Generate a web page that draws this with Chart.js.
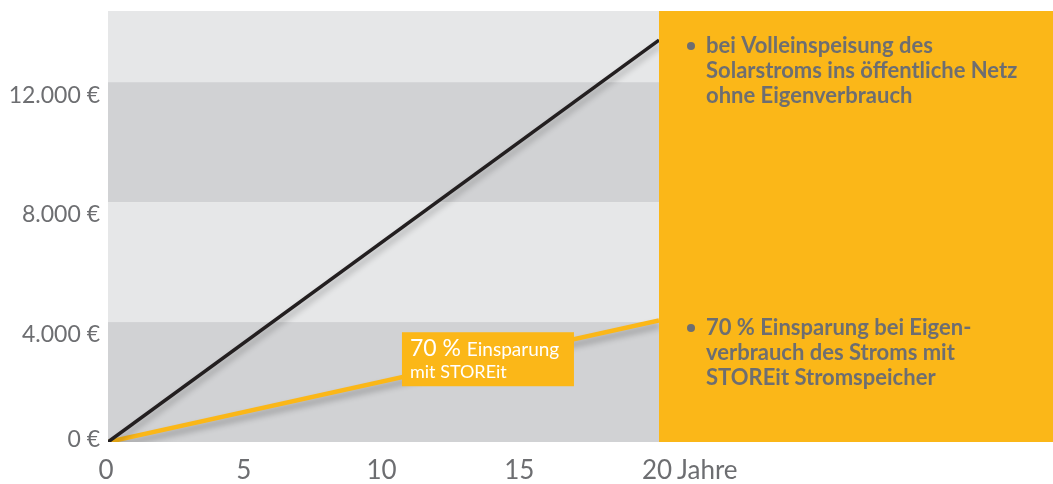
<!DOCTYPE html>
<html>
<head>
<meta charset="utf-8">
<script src="https://cdn.jsdelivr.net/npm/chart.js@4.4.0/dist/chart.umd.min.js"></script>
<style>
  html, body { margin: 0; padding: 0; background: #fff; }
  #wrap { width: 1053px; height: 484px; position: relative; }
</style>
</head>
<body>
<div id="wrap"><canvas id="chart"></canvas></div>
<script>
// data
const years = [0, 20];
const feedInValues = [0, 13400];   // Volleinspeisung, kein Eigenverbrauch
const storeItValues = [0, 4050];   // 70 % Einsparung mit STOREit
const yTickValues = [0, 4000, 8000, 12000];
const yTickLabels = ['0 €', '4.000 €', '8.000 €', '12.000 €'];
const xTickLabels = { 0: '0', 5: '5', 10: '10', 15: '15', 20: '20' };
const xUnitLabel = 'Jahre';
const bandColors = ['#d1d2d4', '#e6e7e8'];

const panelTexts = [
  ['bei Volleinspeisung des', 'Solarstroms ins öffentliche Netz', 'ohne Eigenverbrauch'],
  ['70 % Einsparung bei Eigen-', 'verbrauch des Stroms mit', 'STOREit Stromspeicher'],
];

const ORANGE = '#fbb718';
const GREY_TEXT = '#6d6e71';
const FONT = 'Lato, "Open Sans", sans-serif';
const X_FONT_SIZE = 26;
const X_PAD = 13;

// Background bands, orange panel, tick labels and callout text
const decorPlugin = {
  id: 'decor',
  beforeDatasetsDraw(chart) {
    const { ctx, chartArea, scales: { y } } = chart;
    ctx.save();
    // alternating horizontal bands every 4000
    const bounds = [...yTickValues, y.max];
    for (let i = 0; i < bounds.length - 1; i++) {
      const top = y.getPixelForValue(bounds[i + 1]);
      const bottom = y.getPixelForValue(bounds[i]);
      ctx.fillStyle = bandColors[i % 2];
      ctx.fillRect(chartArea.left, top, chartArea.right - chartArea.left, bottom - top);
    }
    // orange panel to the right
    ctx.fillStyle = ORANGE;
    ctx.fillRect(chartArea.right, chartArea.top, chart.width - chartArea.right, chartArea.bottom - chartArea.top);
    ctx.restore();
  },
  beforeDatasetDraw(chart) {
    const ctx = chart.ctx;
    ctx.save();
    ctx.shadowColor = 'rgba(0,0,0,0.28)';
    ctx.shadowBlur = 6;
    ctx.shadowOffsetX = 1;
    ctx.shadowOffsetY = 5;
  },
  afterDatasetDraw(chart) {
    chart.ctx.restore();
  },
  afterDraw(chart) {
    const { ctx, chartArea, scales: { x, y } } = chart;
    ctx.save();

    // y labels (sit a bit below the band lines, like the original)
    ctx.font = '23px ' + FONT;
    ctx.fillStyle = GREY_TEXT;
    ctx.textAlign = 'right';
    ctx.textBaseline = 'middle';
    yTickValues.forEach((v, i) => {
      const off = v === 0 ? -2 : 13;
      ctx.fillText(yTickLabels[i], chartArea.left - 8, y.getPixelForValue(v) + off);
    });

    // unit after last x tick
    ctx.font = X_FONT_SIZE + 'px ' + FONT;
    ctx.textAlign = 'left';
    ctx.fillText(xUnitLabel, x.getPixelForValue(20) + 18, x.top + X_PAD + X_FONT_SIZE * 0.6);

    // inline callout box on the STOREit line
    const bx = x.getPixelForValue(10.67);
    const by = y.getPixelForValue(3660);
    ctx.fillStyle = ORANGE;
    ctx.fillRect(bx, by, 172, 54);
    ctx.fillStyle = '#ffffff';
    ctx.textBaseline = 'alphabetic';
    ctx.font = '23px ' + FONT;
    ctx.fillText('70 %', bx + 8, by + 24);
    const w = ctx.measureText('70 % ').width;
    ctx.font = '19px ' + FONT;
    ctx.fillText('Einsparung', bx + 8 + w, by + 24);
    ctx.font = '18px ' + FONT;
    ctx.fillText('mit STOREit', bx + 8, by + 46);

    // legend text in the orange panel
    ctx.font = 'bold 22px ' + FONT;
    ctx.fillStyle = GREY_TEXT;
    ctx.textBaseline = 'middle';
    const blockTops = [y.getPixelForValue(13200), y.getPixelForValue(3800)];
    panelTexts.forEach((lines, b) => {
      const top = blockTops[b];
      ctx.beginPath();
      ctx.arc(chartArea.right + 32, top, 4, 0, Math.PI * 2);
      ctx.fill();
      lines.forEach((t, i) => {
        ctx.fillText(t, chartArea.right + 47, top + i * 25);
      });
    });
    ctx.restore();
  }
};

new Chart(document.getElementById('chart'), {
  type: 'line',
  data: {
    datasets: [
      {
        label: 'Volleinspeisung',
        data: years.map((yr, i) => ({ x: yr, y: feedInValues[i] })),
        borderColor: '#231f20',
        borderWidth: 3.5,
        pointRadius: 0,
      },
      {
        label: 'STOREit',
        data: years.map((yr, i) => ({ x: yr, y: storeItValues[i] })),
        borderColor: ORANGE,
        borderWidth: 4.5,
        pointRadius: 0,
      },
    ]
  },
  options: {
    responsive: true,
    maintainAspectRatio: false,
    animation: false,
    layout: { padding: { left: 108, right: 394, top: 11, bottom: 0 } },
    scales: {
      x: {
        type: 'linear',
        min: 0,
        max: 20,
        grid: { display: false, drawTicks: false },
        border: { display: false },
        afterFit: (scale) => { scale.height = 42; },
        ticks: {
          stepSize: 5,
          padding: X_PAD,
          labelOffset: -2,
          color: GREY_TEXT,
          font: { family: FONT, size: X_FONT_SIZE },
          maxRotation: 0,
          callback: (v) => xTickLabels[v] ?? '',
        },
      },
      y: {
        display: false,
        min: 0,
        max: 14370,
        ticks: { stepSize: 4000 },
      },
    },
    plugins: {
      legend: { display: false },
      tooltip: { enabled: false },
    },
  },
  plugins: [decorPlugin],
});
</script>
</body>
</html>
